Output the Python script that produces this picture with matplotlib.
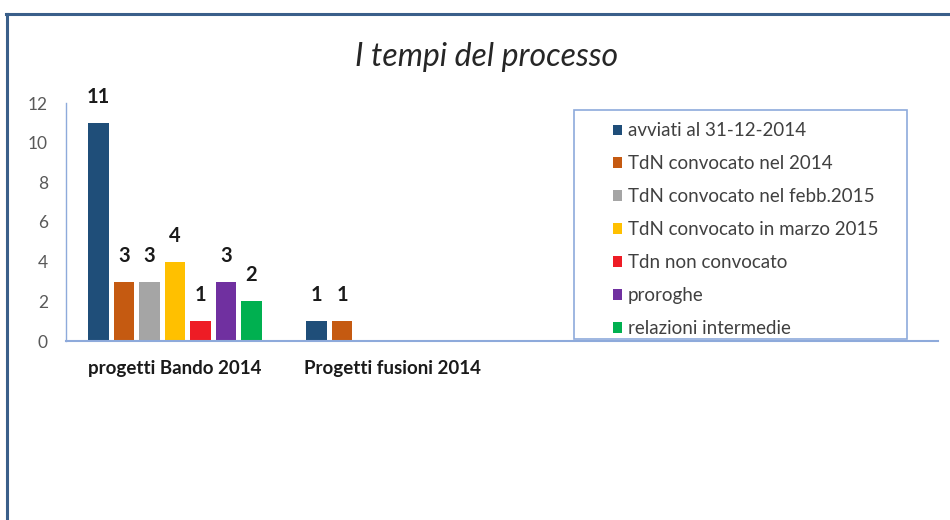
import matplotlib
matplotlib.use("Agg")
import matplotlib.pyplot as plt
import numpy as np
from matplotlib.patches import Rectangle
from matplotlib.lines import Line2D

categories = ["progetti Bando 2014", "Progetti fusioni 2014", "", ""]
series_names = ["avviati al 31-12-2014", "TdN convocato nel 2014", "TdN convocato nel febb.2015",
                "TdN convocato in marzo 2015", "Tdn non convocato", "proroghe", "relazioni intermedie"]
avviati = [11, 1]
tdn_2014 = [3, 1]
tdn_febb = [3, 0]
tdn_marzo = [4, 0]
tdn_non = [1, 0]
proroghe = [3, 0]
relazioni = [2, 0]
series_values = [avviati, tdn_2014, tdn_febb, tdn_marzo, tdn_non, proroghe, relazioni]
colors = ["#1f4e79", "#c55a11", "#a5a5a5", "#ffc000", "#ee1c25", "#7030a0", "#00b050"]
yticks = [0, 2, 4, 6, 8, 10, 12]

W, H = 950, 520
fig = plt.figure(figsize=(9.5, 5.2), dpi=100)
ax = fig.add_axes([66 / W, 1 - 341 / H, (938 - 66) / W, (341 - 103) / H])

font = "Lato"
step = 0.117
width = 0.092
n = len(series_values)
for i, (vals, c) in enumerate(zip(series_values, colors)):
    x = np.arange(len(vals)) + (i - (n - 1) / 2) * step
    ax.bar(x, vals, width=width, color=c, label=series_names[i])
    for xi, v in zip(x, vals):
        if v > 0:
            ax.text(xi, v + 0.8, str(v), ha="center", va="bottom", fontsize=14.5,
                    fontweight="bold", family=font, color="#1a1a1a")

ax.set_xlim(-0.5, len(categories) - 0.5)
ax.set_ylim(0, 12)
ax.set_yticks(yticks)
ax.set_yticklabels([str(t) for t in yticks], family=font, fontsize=12.5, color="#595959")
ax.set_xticks(range(len(categories)))
ax.set_xticklabels(categories, family=font, fontsize=13.5, fontweight="bold", color="#1a1a1a")
ax.tick_params(axis="y", length=0, pad=13)
ax.tick_params(axis="x", length=0, pad=14)
for s in ["top", "right"]:
    ax.spines[s].set_visible(False)
ax.spines["left"].set_color("#8eaadb")
ax.spines["bottom"].set_color("#8eaadb")
ax.spines["left"].set_linewidth(1.0)
ax.spines["bottom"].set_linewidth(1.5)

# legend box
fig.patches.append(Rectangle((574 / W, 1 - 339 / H), (907 - 574) / W, (339 - 110) / H,
                             transform=fig.transFigure, fill=True, facecolor="white",
                             edgecolor="#8eaadb", linewidth=1.2, zorder=5))
handles, labels = ax.get_legend_handles_labels()
leg = fig.legend(handles, labels, loc="upper left", bbox_to_anchor=(605 / W, 1 - 115 / H),
                 frameon=False, prop={"family": font, "size": 13.5}, handlelength=0.5,
                 handleheight=0.5, handletextpad=0.3, labelspacing=0.85, borderaxespad=0)
for t in leg.get_texts():
    t.set_color("#404040")
leg.set_zorder(6)

fig.text(487 / W, 1 - 57 / H, "I tempi del processo", ha="center", va="center",
         fontsize=23, style="italic", family=font, color="#262626")

# outer frame (top and left)
fig.add_artist(Line2D([6 / W, 1.0], [1 - 14 / H, 1 - 14 / H], transform=fig.transFigure,
                      color="#3a5f8a", linewidth=2.2))
fig.add_artist(Line2D([7 / W, 7 / W], [1 - 14 / H, 0], transform=fig.transFigure,
                      color="#3a5f8a", linewidth=2.2))

fig.savefig("out.png", dpi=100)
